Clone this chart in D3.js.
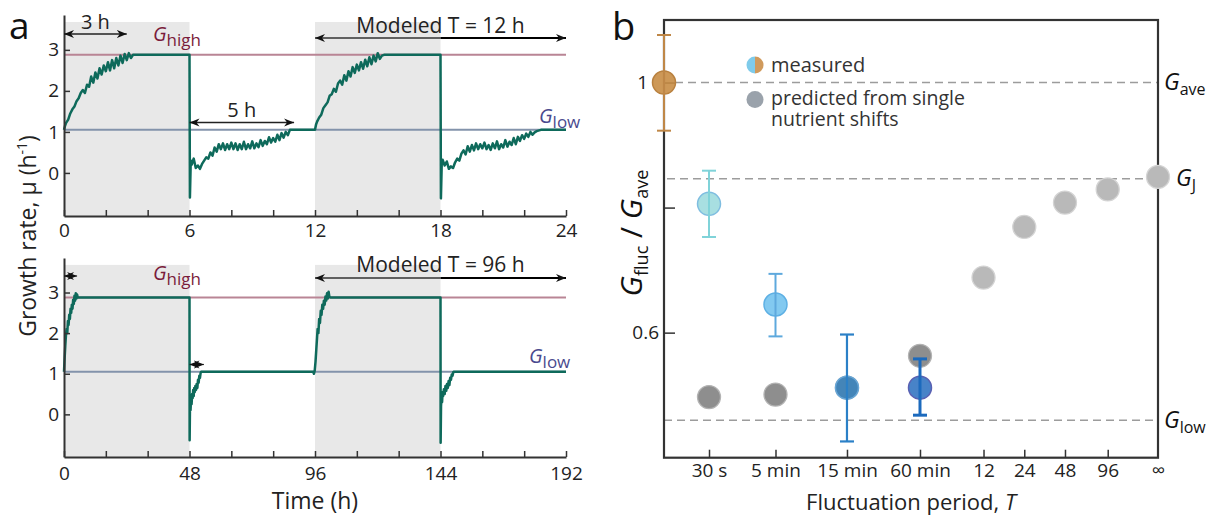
<!DOCTYPE html>
<html><head><meta charset="utf-8">
<script src="https://cdn.jsdelivr.net/npm/d3@7"></script>
<style>
body{margin:0;background:#fff;}
svg{display:block;font-family:"Open Sans",sans-serif;}
</style></head><body>
<svg id="c" width="1214" height="516"></svg>
<script>
// ===== DATA =====
// Panel a (top): modeled growth rate, T = 12 h  [time (h), rate (1/h)]
const traceT12 = [
 [0,1.05],[0.05,1.15],[0.1,1.22],[0.2,1.3],[0.3,1.45],[0.4,1.55],[0.5,1.62],[0.6,1.75],[0.7,1.82],[0.8,1.95],[0.9,2.02],
 [1.0,1.95],[1.1,2.15],[1.2,2.1],[1.3,2.35],[1.4,2.2],[1.5,2.45],[1.6,2.3],[1.7,2.55],[1.8,2.4],[1.9,2.62],
 [2.0,2.48],[2.1,2.7],[2.2,2.5],[2.3,2.75],[2.4,2.55],[2.5,2.8],[2.6,2.62],[2.7,2.86],[2.8,2.68],[2.9,2.9],
 [3.0,2.75],[3.1,2.92],[3.2,2.8],[3.3,2.88],[6.0,2.88],
 [6.02,-0.6],[6.06,0.3],[6.1,0.2],[6.2,0.35],[6.3,0.12],[6.4,0.18],[6.5,0.1],[6.6,0.22],[6.7,0.3],[6.8,0.38],[6.9,0.35],
 [7.0,0.5],[7.1,0.42],[7.2,0.62],[7.3,0.52],[7.4,0.7],[7.5,0.58],[7.6,0.72],[7.7,0.56],[7.8,0.7],[7.9,0.58],
 [8.0,0.74],[8.1,0.58],[8.2,0.72],[8.3,0.56],[8.4,0.7],[8.5,0.58],[8.6,0.76],[8.7,0.58],[8.8,0.7],[8.9,0.6],
 [9.0,0.77],[9.1,0.6],[9.2,0.72],[9.3,0.63],[9.4,0.8],[9.5,0.66],[9.6,0.78],[9.7,0.7],[9.8,0.87],[9.9,0.74],
 [10.0,0.85],[10.1,0.76],[10.2,0.93],[10.3,0.8],[10.4,0.97],[10.5,0.86],[10.6,1.0],[10.7,0.92],[10.8,1.05],[12.0,1.05],
 [12.05,1.18],[12.1,1.25],[12.2,1.35],[12.3,1.42],[12.4,1.58],[12.5,1.65],[12.6,1.72],[12.7,1.88],[12.8,1.92],[12.9,2.05],
 [13.0,1.98],[13.1,2.18],[13.2,2.25],[13.3,2.15],[13.4,2.38],[13.5,2.25],[13.6,2.48],[13.7,2.35],[13.8,2.58],[13.9,2.44],
 [14.0,2.64],[14.1,2.5],[14.2,2.7],[14.3,2.54],[14.4,2.76],[14.5,2.6],[14.6,2.82],[14.7,2.65],[14.8,2.86],[14.9,2.72],
 [15.0,2.92],[15.1,2.78],[15.2,2.86],[15.3,2.88],[18.0,2.88],
 [18.02,-0.62],[18.06,0.25],[18.1,0.32],[18.2,0.18],[18.3,0.28],[18.4,0.1],[18.5,0.16],[18.6,0.12],[18.7,0.26],[18.8,0.35],[18.9,0.3],
 [19.0,0.47],[19.1,0.55],[19.2,0.45],[19.3,0.65],[19.4,0.52],[19.5,0.68],[19.6,0.55],[19.7,0.72],[19.8,0.58],[19.9,0.7],
 [20.0,0.6],[20.1,0.74],[20.2,0.58],[20.3,0.68],[20.4,0.56],[20.5,0.72],[20.6,0.6],[20.7,0.77],[20.8,0.58],[20.9,0.7],
 [21.0,0.62],[21.1,0.8],[21.2,0.64],[21.3,0.76],[21.4,0.68],[21.5,0.85],[21.6,0.7],[21.7,0.88],[21.8,0.78],[21.9,0.92],
 [22.0,0.83],[22.1,0.96],[22.2,0.88],[22.3,1.0],[22.4,0.93],[22.5,0.99],[22.6,1.02],[22.8,1.05],[24.0,1.05]
];
// Panel a (bottom): modeled growth rate, T = 96 h
const traceT96 = [
 [0,1.05],[0.25,1.4],[0.5,1.7],[0.75,1.95],[1.0,2.1],[1.25,2.0],[1.5,2.3],[1.75,2.2],[2.0,2.45],[2.25,2.35],
 [2.5,2.6],[2.75,2.5],[3.0,2.7],[3.25,2.6],[3.5,2.82],[3.75,2.72],[4.0,2.92],[4.25,2.8],[4.5,2.98],[4.75,2.85],
 [5.0,2.95],[5.25,2.88],[48,2.88],
 [48.05,-0.64],[48.2,0.3],[48.4,0.1],[48.6,0.4],[48.8,0.25],[49.0,0.5],[49.2,0.4],[49.4,0.6],[49.6,0.45],[49.8,0.65],
 [50.0,0.55],[50.25,0.7],[50.5,0.6],[50.75,0.75],[51.0,0.65],[51.25,0.85],[51.5,0.78],[51.75,0.95],[52.0,0.9],[52.25,1.02],[52.5,1.05],
 [95.3,1.05],[95.6,1.0],[95.9,1.08],[96.2,1.3],[96.5,1.6],[96.8,1.9],[97.0,2.1],[97.3,2.0],[97.6,2.35],[97.9,2.25],
 [98.2,2.55],[98.5,2.45],[98.8,2.7],[99.1,2.6],[99.4,2.8],[99.7,2.7],[100.0,2.9],[100.3,2.8],[100.6,2.98],[100.9,2.85],
 [101.2,3.02],[101.5,2.9],[101.8,2.88],[144,2.88],
 [144.05,-0.7],[144.2,0.2],[144.4,0.45],[144.6,0.3],[144.8,0.55],[145.0,0.45],[145.3,0.62],[145.6,0.5],[145.9,0.7],
 [146.2,0.58],[146.5,0.75],[146.8,0.65],[147.1,0.82],[147.4,0.72],[147.7,0.9],[148.0,0.85],[148.3,0.98],[148.6,0.95],
 [148.9,1.04],[149.2,1.05],[192,1.05]
];
const gHigh = 2.88, gLow = 1.05;
const rateTicks = [0,1,2,3];
const ticksT12 = [0,2,4,6,8,10,12,14,16,18,20,22,24], labelsT12 = [0,6,12,18,24];
const ticksT96 = [0,16,32,48,64,80,96,112,128,144,160,176,192], labelsT96 = [0,48,96,144,192];
const highT12 = [[0,6],[12,18]], highT96 = [[0,48],[96,144]];

// Panel b
const categories = ["ref","30 s","5 min","15 min","60 min","12","24","48","96","∞"];
const measCat  = ["ref","30 s","5 min","15 min","60 min"];
const measMean = [1.0, 0.806, 0.645, 0.512, 0.512];
const measLo   = [0.923, 0.753, 0.594, 0.426, 0.468];
const measHi   = [1.076, 0.859, 0.694, 0.597, 0.558];
const predCat  = ["30 s","5 min","15 min","60 min","12","24","48","96","∞"];
const predVal  = [0.497, 0.501, 0.512, 0.563, 0.688, 0.769, 0.808, 0.829, 0.849];
const gAveRatio = 1.0, gJRatio = 0.846, gLowRatio = 0.46;
const ratioTicks = [0.6, 0.8, 1], ratioTickLabels = ["0.6", "", "1"];

// ===== STYLE / LAYOUT =====
const measFill   = ["#c88d45","#9fdcde","#74c3ee","#3c84bd","#3475c2"];
const measStroke = ["#b9813f","#7fbde0","#5eb0e4","#68a6d6","#5a60b2"];
const measErr    = ["#bf8747","#80d3d9","#5ea9dd","#2b80c7","#1c6abd"];
const measErrW   = [2, 2, 2, 2.2, 3];
const predFill   = ["#8e8e8e","#8e8e8e","#8e8e8e","#8e8e8e","#b9b9b9","#b9b9b9","#b9b9b9","#b9b9b9","#b9b9b9"];
const predStroke = ["#b3b3b3","#b3b3b3","#b3b3b3","#b3b3b3","#d4d4d4","#d4d4d4","#d4d4d4","#d4d4d4","#d4d4d4"];
const slotFrac = [0,0.0911,0.2257,0.3704,0.5182,0.6468,0.7293,0.8117,0.8982,1.0];

const svg = d3.select("#c");
const defs = svg.append("defs");
defs.append("marker").attr("id","ah").attr("viewBox","0 -5 10 10").attr("refX",10).attr("refY",0)
  .attr("markerWidth",10).attr("markerHeight",10).attr("markerUnits","userSpaceOnUse")
  .attr("orient","auto-start-reverse")
  .append("path").attr("d","M0,-4L10,0L0,4L3,0Z").attr("fill","#111");

const ink = "#222";
const yDomA = [-1.05, 3.85], shadeTop = 3.68;

function glabel(g, x, y, sub, color, size, subSize, dy){
  const t = g.append("text").attr("x",x).attr("y",y).attr("fill",color).attr("font-size",size);
  t.append("tspan").attr("font-style","italic").text("G");
  t.append("tspan").attr("font-size",subSize).attr("dy",dy).text(sub);
  return t;
}
function arrow(g, x1, x2, y, w, col){
  g.append("line").attr("x1",x1).attr("x2",x2).attr("y1",y).attr("y2",y)
   .attr("stroke",col||"#222").attr("stroke-width",w||1.4)
   .attr("marker-start","url(#ah)").attr("marker-end","url(#ah)");
}

function panelA(cfg){
  const g = svg.append("g");
  const x = d3.scaleLinear().domain(cfg.xDom).range([64,566]);
  const y = d3.scaleLinear().domain(yDomA).range([cfg.bottom, cfg.top]);
  cfg.shade.forEach(([a,b])=>{
    g.append("rect").attr("x",x(a)).attr("width",x(b)-x(a)).attr("y",y(shadeTop))
     .attr("height",y(yDomA[0])-y(shadeTop)).attr("fill","#e8e8e8");
  });
  g.append("line").attr("x1",x.range()[0]).attr("x2",x.range()[1]).attr("y1",y(gHigh)).attr("y2",y(gHigh))
   .attr("stroke","#b98595").attr("stroke-width",2);
  g.append("line").attr("x1",x.range()[0]).attr("x2",x.range()[1]).attr("y1",y(gLow)).attr("y2",y(gLow))
   .attr("stroke","#8393ab").attr("stroke-width",2);
  g.append("path").datum(cfg.trace)
   .attr("d", d3.line().x(d=>x(d[0])).y(d=>y(d[1])))
   .attr("fill","none").attr("stroke","#0e6a5b").attr("stroke-width",2.5).attr("stroke-linejoin","round");
  const xa = g.append("g").attr("transform",`translate(0,${cfg.bottom})`)
    .call(d3.axisBottom(x).tickValues(cfg.ticks).tickSize(-6).tickSizeOuter(0).tickPadding(cfg.pad)
      .tickFormat(d=> cfg.labels.includes(d) ? d : ""));
  const ya = g.append("g").attr("transform","translate(64,0)")
    .call(d3.axisLeft(y).tickValues(rateTicks).tickSize(-6).tickSizeOuter(0).tickPadding(5).tickFormat(d3.format("d")));
  [xa,ya].forEach(a=>{
    a.select(".domain").attr("stroke","#333").attr("stroke-width",2);
    a.selectAll(".tick line").attr("stroke","#333").attr("stroke-width",1.5);
    a.selectAll("text").attr("font-size",19).attr("fill",ink).attr("font-family","Open Sans");
  });
  glabel(g, 153, cfg.highLabelY, "high", "#7a1c3b", 20, 17, 5);
  glabel(g, cfg.lowLabelX, cfg.lowLabelY, "low", "#4a4a8e", 20, 17, 5);
  return {x, y, g};
}

// ---- top panel a
const A1 = panelA({xDom:[0,24], top:15, bottom:216, trace:traceT12, shade:highT12, ticks:ticksT12, labels:labelsT12,
  pad:8, highLabelY:41, lowLabelX:539, lowLabelY:123});
arrow(A1.g, A1.x(0), A1.x(3), 34);
A1.g.append("text").attr("x",A1.x(1.5)).attr("y",29).attr("text-anchor","middle").attr("font-size",20).attr("fill",ink).text("3 h");
arrow(A1.g, A1.x(6), A1.x(11), 122.5);
A1.g.append("text").attr("x",A1.x(8.5)).attr("y",117).attr("text-anchor","middle").attr("font-size",20).attr("fill",ink).text("5 h");
A1.g.append("line").attr("x1",A1.x(12)).attr("x2",A1.x(18)).attr("y1",38).attr("y2",38).attr("stroke","#333").attr("stroke-width",1.3).attr("marker-start","url(#ah)");
A1.g.append("line").attr("x1",A1.x(18)).attr("x2",A1.x(24)).attr("y1",38).attr("y2",38).attr("stroke","#000").attr("stroke-width",2.2).attr("marker-end","url(#ah)");
A1.g.append("text").attr("x",A1.x(18)).attr("y",33).attr("text-anchor","middle").attr("font-size",21).attr("fill",ink).text("Modeled T = 12 h");

// ---- bottom panel a
const A2 = panelA({xDom:[0,192], top:258, bottom:457, trace:traceT96, shade:highT96, ticks:ticksT96, labels:labelsT96,
  pad:10, highLabelY:280, lowLabelX:529, lowLabelY:363});
arrow(A2.g, A2.x(0), A2.x(5), 276, 1.2);
arrow(A2.g, A2.x(48), A2.x(53.5), 364.5, 1.2);
A2.g.append("line").attr("x1",A2.x(96)).attr("x2",A2.x(144)).attr("y1",278).attr("y2",278).attr("stroke","#333").attr("stroke-width",1.3).attr("marker-start","url(#ah)");
A2.g.append("line").attr("x1",A2.x(144)).attr("x2",A2.x(192)).attr("y1",278).attr("y2",278).attr("stroke","#000").attr("stroke-width",2.2).attr("marker-end","url(#ah)");
A2.g.append("text").attr("x",A2.x(144)).attr("y",272).attr("text-anchor","middle").attr("font-size",21).attr("fill",ink).text("Modeled T = 96 h");
svg.append("text").attr("x",315).attr("y",509).attr("text-anchor","middle").attr("font-size",23).attr("fill",ink).text("Time (h)");
const yl = svg.append("text").attr("transform","translate(36,236) rotate(-90)").attr("text-anchor","middle").attr("font-size",23).attr("fill",ink);
yl.append("tspan").text("Growth rate, μ (h");
yl.append("tspan").attr("font-size",14).attr("dy",-9).text("-1");
yl.append("tspan").attr("dy",9).text(")");
svg.append("text").attr("x",9).attr("y",39).attr("font-size",37).attr("fill","#111").text("a");

// ===== Panel b =====
const bx0 = 664, bx1 = 1158, by0 = 20, by1 = 457.7;
const yb = d3.scaleLinear().domain([0.4,1.1]).range([by1,by0]);
const xb = d3.scaleOrdinal().domain(categories).range(slotFrac.map(f=>bx0+f*(bx1-bx0)));
const B = svg.append("g");
[[gAveRatio,675],[gJRatio,667],[gLowRatio,664]].forEach(([v,x0])=>{
  B.append("line").attr("x1",x0).attr("x2",bx1).attr("y1",yb(v)).attr("y2",yb(v))
   .attr("stroke","#9c9c9c").attr("stroke-width",1.5).attr("stroke-dasharray","8,5");
});
B.append("rect").attr("x",bx0).attr("y",by0).attr("width",bx1-bx0).attr("height",by1-by0)
 .attr("fill","none").attr("stroke","#333").attr("stroke-width",2.2);
const xba = B.append("g").attr("transform",`translate(0,${by1})`)
  .call(d3.axisBottom(xb).tickValues(categories.slice(1)).tickSize(-8).tickPadding(6));
xba.select(".domain").remove();
xba.selectAll(".tick line").attr("stroke","#333").attr("stroke-width",1.5);
xba.selectAll(".tick").filter(d=>d==="∞").select("line").remove();
xba.selectAll("text").attr("font-size",19).attr("fill",ink).attr("font-family","Open Sans");
const yba = B.append("g").attr("transform",`translate(${bx0},0)`)
  .call(d3.axisLeft(yb).tickValues(ratioTicks).tickSize(-11).tickPadding(5)
    .tickFormat((d,i)=>ratioTickLabels[i]));
yba.select(".domain").remove();
yba.selectAll(".tick line").attr("stroke","#333").attr("stroke-width",1.5);
yba.selectAll("text").attr("font-size",19).attr("fill",ink).attr("font-family","Open Sans");
yba.selectAll(".tick").filter(d=>d===1).select("text").attr("x",-16);

const R = 11.5;
// predicted
B.selectAll("circle.pred").data(predCat).enter().append("circle").attr("class","pred")
 .attr("cx",d=>xb(d)).attr("cy",(d,i)=>yb(predVal[i])).attr("r",R)
 .attr("fill",(d,i)=>predFill[i]).attr("stroke",(d,i)=>predStroke[i]).attr("stroke-width",1.3);
// measured circles
measCat.forEach((c,i)=>{
  B.append("circle").attr("cx",xb(c)).attr("cy",yb(measMean[i])).attr("r",R)
   .attr("fill",measFill[i]).attr("fill-opacity",0.9).attr("stroke",measStroke[i]).attr("stroke-width",1.5);
});
// error bars (on top)
measCat.forEach((c,i)=>{
  const cx = xb(c);
  const eg = B.append("g").attr("stroke",measErr[i]).attr("stroke-width",measErrW[i]);
  eg.append("line").attr("x1",cx).attr("x2",cx).attr("y1",yb(measHi[i])).attr("y2",yb(measLo[i]));
  [measHi[i],measLo[i]].forEach(v=> eg.append("line").attr("x1",cx-7).attr("x2",cx+7).attr("y1",yb(v)).attr("y2",yb(v)));
});
// legend
const arc = d3.arc().innerRadius(0).outerRadius(8.5);
B.append("path").attr("transform","translate(755,65)").attr("d",arc({startAngle:Math.PI,endAngle:2*Math.PI})).attr("fill","#7fcbea");
B.append("path").attr("transform","translate(755,65)").attr("d",arc({startAngle:0,endAngle:Math.PI})).attr("fill","#d09a5c");
B.append("circle").attr("cx",755).attr("cy",99.5).attr("r",8.5).attr("fill","#9aa2ab");
B.append("text").attr("x",771).attr("y",72).attr("font-size",20).attr("fill","#333").text("measured");
const lp = B.append("text").attr("x",771).attr("y",105).attr("font-size",19.5).attr("fill","#333");
lp.append("tspan").attr("x",771).text("predicted from single");
lp.append("tspan").attr("x",771).attr("dy",21).text("nutrient shifts");
// right labels
glabel(B, 1164, 90, "ave", "#111", 23, 16, 5);
glabel(B, 1176, 186, "J", "#111", 23, 16, 5);
glabel(B, 1164, 428, "low", "#111", 23, 16, 5);
// axis titles
const xt = B.append("text").attr("x",(bx0+bx1)/2).attr("y",510).attr("text-anchor","middle").attr("font-size",22).attr("fill",ink);
xt.append("tspan").text("Fluctuation period, ");
xt.append("tspan").attr("font-style","italic").text("T");
const ytb = B.append("text").attr("transform","translate(642,233) rotate(-90)").attr("text-anchor","middle").attr("font-size",30).attr("fill","#111");
ytb.append("tspan").attr("font-style","italic").text("G");
ytb.append("tspan").attr("font-size",18).attr("dy",6).text("fluc");
ytb.append("tspan").attr("dy",-6).text(" / ");
ytb.append("tspan").attr("font-style","italic").text("G");
ytb.append("tspan").attr("font-size",18).attr("dy",6).text("ave");
svg.append("text").attr("x",612).attr("y",40).attr("font-size",38).attr("fill","#111").text("b");
</script>
</body></html>
